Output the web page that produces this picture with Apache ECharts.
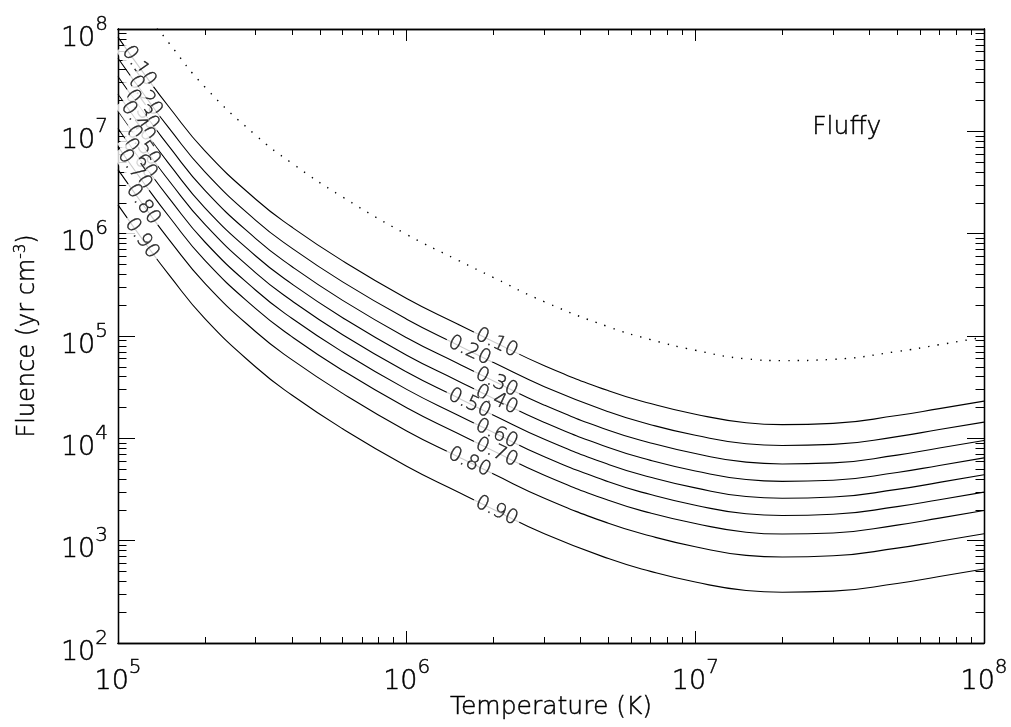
<!DOCTYPE html>
<html>
<head>
<meta charset="utf-8">
<script src="https://cdn.jsdelivr.net/npm/echarts@6/dist/echarts.min.js"></script>
<style>
  html, body { margin: 0; padding: 0; background: #fff; }
  #chart { width: 1011px; height: 727px; }
</style>
</head>
<body>
<div id="chart"></div>
<script>
// temperature grid (K) shared by every curve
const temperature = [1e5, 1.25e5, 1.5e5, 2e5, 3e5, 4e5, 6e5, 1e6, 1.5e6, 2e6, 3e6, 5e6, 7e6, 1e7, 1.5e7, 2e7, 3e7, 5e7, 7e7, 1e8];

// fluence (yr cm^-3)
const fluence010 = [8.32e7, 3.44e7, 1.74e7, 6.44e6, 2.17e6, 1.16e6, 5.42e5, 2.33e5, 1.31e5, 8.81e4, 5.13e4, 2.92e4, 2.19e4, 1.72e4, 1.42e4, 1.36e4, 1.40e4, 1.67e4, 1.95e4, 2.31e4];
const fluence020 = [5.18e7, 2.15e7, 1.08e7, 4.02e6, 1.35e6, 7.22e5, 3.38e5, 1.46e5, 8.18e4, 5.5e4, 3.2e4, 1.82e4, 1.36e4, 1.07e4, 8.85e3, 8.51e3, 8.72e3, 1.04e4, 1.22e4, 1.44e4];
const fluence030 = [3.43e7, 1.42e7, 7.16e6, 2.65e6, 8.95e5, 4.78e5, 2.23e5, 9.62e4, 5.41e4, 3.63e4, 2.11e4, 1.2e4, 9.02e3, 7.1e3, 5.85e3, 5.62e3, 5.76e3, 6.86e3, 8.04e3, 9.53e3];
const fluence040 = [2.32e7, 9.59e6, 4.84e6, 1.79e6, 6.05e5, 3.23e5, 1.51e5, 6.5e4, 3.66e4, 2.45e4, 1.43e4, 8.13e3, 6.09e3, 4.8e3, 3.96e3, 3.8e3, 3.9e3, 4.64e3, 5.43e3, 6.44e3];
const fluence050 = [1.58e7, 6.56e6, 3.31e6, 1.23e6, 4.14e5, 2.21e5, 1.03e5, 4.45e4, 2.5e4, 1.68e4, 9.77e3, 5.56e3, 4.17e3, 3.28e3, 2.7e3, 2.6e3, 2.67e3, 3.17e3, 3.71e3, 4.4e3];
const fluence060 = [1.07e7, 4.44e6, 2.24e6, 8.29e5, 2.8e5, 1.49e5, 6.98e4, 3.01e4, 1.69e4, 1.14e4, 6.61e3, 3.76e3, 2.82e3, 2.22e3, 1.83e3, 1.76e3, 1.81e3, 2.15e3, 2.51e3, 2.98e3];
const fluence070 = [7.08e6, 2.93e6, 1.48e6, 5.48e5, 1.85e5, 9.86e4, 4.61e4, 1.99e4, 1.12e4, 7.5e3, 4.36e3, 2.48e3, 1.86e3, 1.47e3, 1.21e3, 1.16e3, 1.19e3, 1.42e3, 1.66e3, 1.97e3];
const fluence080 = [4.22e6, 1.75e6, 8.81e5, 3.27e5, 1.1e5, 5.87e4, 2.75e4, 1.18e4, 6.65e3, 4.47e3, 2.6e3, 1.48e3, 1.11e3, 873, 719, 692, 711, 845, 988, 1.17e3];
const fluence090 = [1.91e6, 7.89e5, 3.98e5, 1.48e5, 4.98e4, 2.65e4, 1.24e4, 5.34e3, 3.01e3, 2.02e3, 1.17e3, 668, 501, 394, 326, 313, 321, 382, 447, 529];
// dotted "fluffy" curve
const fluenceFluffy = [null, 1.45e8, 7.32e7, 2.71e7, 9.16e6, 4.89e6, 2.28e6, 9.83e5, 5.53e5, 3.72e5, 2.16e5, 1.23e5, 9.22e4, 7.26e4, 5.98e4, 5.75e4, 5.92e4, 7.05e4, 8.22e4, 9.75e4];

const levels = ['0.10', '0.20', '0.30', '0.40', '0.50', '0.60', '0.70', '0.80', '0.90'];
const contours = [fluence010, fluence020, fluence030, fluence040, fluence050, fluence060, fluence070, fluence080, fluence090];

// where along each contour its labels sit (temperature)
const labelLeftT = [1.18e5, 1.24e5, 1.21e5, 1.17e5, 1.22e5, 1.19e5, 1.14e5, 1.22e5, 1.21e5];
const labelMidT = [2.05e6, 1.65e6, 2.05e6, 2.05e6, 1.65e6, 2.05e6, 2.05e6, 1.65e6, 2.05e6];

// axis ticks
const xDecades = [1e5, 1e6, 1e7, 1e8];
const yDecades = [1e2, 1e3, 1e4, 1e5, 1e6, 1e7, 1e8];
const minorMult = [2, 3, 4, 5, 6, 7, 8, 9];

const FONT = 'DejaVu Sans';
const INK = '#000';
// thin font, slightly inked so it reads black like the original
const ink = { fontFamily: FONT, fontWeight: 200, color: INK, textBorderColor: INK, textBorderWidth: 0.45 };

const minorOf = (decades) => decades.slice(0, -1).flatMap(d => minorMult.map(m => m * d));

// fluence on a contour at temperature t, log-log interpolation of the read values
const fluenceAt = (arr, t) => {
  for (let i = 0; i < temperature.length - 1; i++) {
    if (t >= temperature[i] && t <= temperature[i + 1]) {
      const f = (Math.log10(t) - Math.log10(temperature[i])) / (Math.log10(temperature[i + 1]) - Math.log10(temperature[i]));
      return Math.pow(10, Math.log10(arr[i]) + f * (Math.log10(arr[i + 1]) - Math.log10(arr[i])));
    }
  }
  return null;
};

// 10^n tick labels, both tokens the same box height so the exponent sits raised
const powRich = {
  b: Object.assign({ fontSize: 27, lineHeight: 26, padding: [11, 0, 0, 0] }, ink),
  s: Object.assign({ fontSize: 20, lineHeight: 20, padding: [0, 0, 17, 0] }, ink)
};
const powFormatter = v => '{b|10}{s|' + Math.round(Math.log10(v)) + '}';

const makeAxis = (kind, position, ticks, len) => ({
  type: 'log',
  logBase: 10,
  min: kind === 'x' ? 1e5 : 1e2,
  max: 1e8,
  position: position,
  axisLine: { show: true, onZero: false, lineStyle: { color: INK, width: 1.3 } },
  axisTick: { show: true, inside: true, length: len, customValues: ticks, lineStyle: { color: INK, width: 1 } },
  axisLabel: { show: false },
  splitLine: { show: false },
  minorTick: { show: false }
});

const xAxes = [
  makeAxis('x', 'bottom', xDecades, 12),
  makeAxis('x', 'bottom', minorOf(xDecades), 6),
  makeAxis('x', 'top', xDecades, 12),
  makeAxis('x', 'top', minorOf(xDecades), 6)
];
xAxes[0].axisLabel = { show: true, customValues: xDecades, margin: 20, formatter: powFormatter, rich: powRich };
xAxes[0].name = 'Temperature (K)';
xAxes[0].nameLocation = 'middle';
xAxes[0].nameGap = 52;
xAxes[0].nameMoveOverlap = false;
xAxes[0].nameTextStyle = Object.assign({ fontSize: 25 }, ink);

const yAxes = [
  makeAxis('y', 'left', yDecades, 17),
  makeAxis('y', 'left', minorOf(yDecades), 8.5),
  makeAxis('y', 'right', yDecades, 17),
  makeAxis('y', 'right', minorOf(yDecades), 8.5)
];
yAxes[0].axisLabel = { show: true, customValues: yDecades, margin: 10, formatter: powFormatter, rich: powRich, padding: [8, 0, 0, 0] };
yAxes[0].name = 'Fluence (yr cm{s|-3})';
yAxes[0].nameLocation = 'middle';
yAxes[0].nameRotate = 90;
yAxes[0].nameGap = 77;
yAxes[0].nameMoveOverlap = false;
yAxes[0].nameTextStyle = Object.assign({
  fontSize: 24,
  rich: { s: Object.assign({ fontSize: 15, padding: [0, 0, 12, 0] }, ink) }
}, ink);

const lineSeries = contours.map((arr, k) => ({
  name: levels[k],
  type: 'line',
  xAxisIndex: 0,
  yAxisIndex: 0,
  data: temperature.map((t, i) => [t, arr[i]]),
  showSymbol: false,
  smooth: 0.5,
  silent: true,
  lineStyle: { color: INK, width: 1.1 },
  z: 2
}));

const fluffySeries = {
  name: 'Fluffy',
  type: 'line',
  xAxisIndex: 0,
  yAxisIndex: 0,
  data: temperature.map((t, i) => [t, fluenceFluffy[i]]),
  showSymbol: false,
  smooth: 0.5,
  silent: true,
  clip: true,
  lineStyle: { color: INK, width: 1.4, type: [1.4, 8] },
  z: 2
};

const labelData = [];
levels.forEach((lv, k) => {
  labelData.push({ name: lv, value: [labelLeftT[k], fluenceAt(contours[k], labelLeftT[k])], label: { rotate: -55 } });
  labelData.push({ name: lv, value: [labelMidT[k], fluenceAt(contours[k], labelMidT[k])], label: { rotate: -25 } });
});

const labelSeries = {
  type: 'scatter',
  xAxisIndex: 0,
  yAxisIndex: 0,
  symbolSize: 0,
  silent: true,
  data: labelData,
  label: Object.assign({
    show: true,
    position: 'inside',
    formatter: p => p.name,
    fontSize: 20,
    backgroundColor: '#fff',
    padding: [0, 3]
  }, ink),
  z: 5
};

const option = {
  backgroundColor: '#fff',
  animation: false,
  grid: { left: 118, right: 27, top: 29, bottom: 84, containLabel: false, outerBoundsMode: 'none' },
  xAxis: xAxes,
  yAxis: yAxes,
  graphic: [{
    type: 'text',
    left: 812,
    top: 115,
    style: { text: 'Fluffy', fontSize: 25, fontFamily: FONT, fontWeight: 200, fill: INK, stroke: INK, lineWidth: 0.45 }
  }],
  series: lineSeries.concat([fluffySeries, labelSeries])
};

window.addEventListener('load', () => {
  const chart = echarts.init(document.getElementById('chart'));
  chart.setOption(option);
});
</script>
</body>
</html>
